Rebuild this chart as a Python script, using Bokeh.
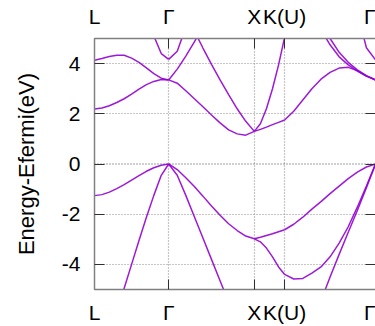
import numpy as np
from bokeh.plotting import figure
from bokeh.models import FixedTicker, LinearAxis, Range1d, Span
from bokeh.embed import file_html
from bokeh.resources import INLINE

nan = np.nan

# high-symmetry points along the path (units of 2*pi/a)
kpoint_labels = ["L", "Γ", "X", "K(U)", "Γ"]
kpoint_dist = [0.0, 0.866, 1.866, 2.220, 3.281]
y_ticks = [-4, -2, 0, 2, 4]

# fractional positions of the samples along each path segment
t_LG = [0, .1, .2, .3, .4, .5, .6, .7, .8, .9, 1.0]
t_GX = [0, .1, .2, .3, .4, .5, .6, .7, .8, .9, 1.0]
t_XK = [0, .2, .4, .6, .8, 1.0]
t_KG = [0, .1, .2, .3, .4, .5, .6, .7, .8, .9, 1.0]

# energies (eV, relative to E_Fermi)
# L - Gamma
LG_v1 = [-1.26, -1.22, -1.12, -0.98, -0.82, -0.64, -0.46, -0.29, -0.15, -0.05, 0.0]
LG_v2 = [nan, nan, nan, -5.9, -4.95, -4.0, -3.05, -2.12, -1.25, -0.45, 0.0]
LG_c1 = [2.19, 2.23, 2.32, 2.45, 2.6, 2.78, 2.98, 3.16, 3.29, 3.37, 3.35]
LG_c2 = [4.13, 4.2, 4.28, 4.33, 4.33, 4.22, 4.05, 3.83, 3.6, 3.42, 3.35]
LG_c3 = [nan, nan, nan, nan, nan, nan, nan, 6.0, 5.1, 4.4, 4.17]
# Gamma - X
GX_v1 = [0.0, -0.22, -0.55, -0.9, -1.28, -1.67, -2.04, -2.38, -2.65, -2.87, -2.98]
GX_v2 = [0.0, -0.45, -1.25, -2.1, -2.95, -3.8, -4.65, -5.5, nan, nan, nan]
GX_c1 = [3.35, 3.22, 2.92, 2.6, 2.28, 1.95, 1.64, 1.36, 1.2, 1.15, 1.3]
GX_c2 = [3.35, 3.78, 4.3, 4.87, 5.45, nan, nan, nan, nan, nan, nan]
GX_c3 = [4.17, 4.49, 5.45, nan, nan, nan, nan, nan, nan, nan, nan]
GX_c4 = [nan, nan, nan, 5.3, 4.62, 3.97, 3.35, 2.76, 2.2, 1.7, 1.3]
# X - K(U)
XK_v1 = [-2.98, -2.92, -2.85, -2.78, -2.7, -2.62]
XK_v2 = [-2.98, -3.1, -3.35, -3.7, -4.1, -4.4]
XK_c1 = [1.3, 1.38, 1.47, 1.57, 1.66, 1.75]
XK_c2 = [1.3, 1.6, 2.2, 3.0, 3.95, 5.05]
# K - Gamma
KG_v1 = [-2.62, -2.4, -2.12, -1.8, -1.5, -1.18, -0.88, -0.58, -0.32, -0.12, 0.0]
KG_v2 = [-4.4, -4.58, -4.56, -4.35, -4.1, -3.7, -3.15, -2.5, -1.72, -0.88, 0.0]
KG_v3 = [nan, nan, nan, nan, -5.45, -4.5, -3.6, -2.72, -1.85, -0.95, 0.0]
KG_c1 = [1.75, 2.1, 2.55, 3.0, 3.38, 3.65, 3.82, 3.85, 3.72, 3.5, 3.35]
KG_c2 = [nan, nan, nan, nan, 5.35, 4.75, 4.27, 3.95, 3.7, 3.5, 3.35]
KG_c3 = [nan, nan, nan, nan, 5.6, 5.0, 4.45, 4.05, 3.75, 3.52, 3.35]
KG_c4 = [nan, nan, nan, nan, nan, nan, nan, nan, 6.06, 4.63, 4.15]

segments = [
    (0, t_LG, [LG_v1, LG_v2, LG_c1, LG_c2, LG_c3]),
    (1, t_GX, [GX_v1, GX_v2, GX_c1, GX_c2, GX_c3, GX_c4]),
    (2, t_XK, [XK_v1, XK_v2, XK_c1, XK_c2]),
    (3, t_KG, [KG_v1, KG_v2, KG_v3, KG_c1, KG_c2, KG_c3, KG_c4]),
]

BAND_COLOR = "#9400D3"
FONT = "Liberation Sans"

p = figure(width=375, height=326,
           x_range=Range1d(kpoint_dist[0], kpoint_dist[-1]),
           y_range=Range1d(-5, 5),
           output_backend="svg", toolbar_location=None,
           min_border_left=94, min_border_right=0,
           min_border_top=38, min_border_bottom=37)
p.outline_line_color = None
p.background_fill_color = "white"
p.border_fill_color = "white"

for i, t, bands in segments:
    k0, k1 = kpoint_dist[i], kpoint_dist[i + 1]
    k = k0 + np.array(t) * (k1 - k0)
    for e in bands:
        p.line(k, np.array(e, dtype=float), line_color=BAND_COLOR,
               line_width=1.5, line_alpha=0.9)

# grid
p.xgrid.ticker = FixedTicker(ticks=kpoint_dist[1:-1])
p.ygrid.ticker = FixedTicker(ticks=[v for v in y_ticks if v != 0])
for g in (p.xgrid, p.ygrid):
    g.grid_line_color = "#8c8c8c"
    g.grid_line_dash = "1 2"
    g.grid_line_width = 1.2
zero = Span(location=0, dimension="width", line_color="#404040",
            line_dash="1 2", line_width=1.2, level="underlay")
p.add_layout(zero)

overrides = {kv: lab for kv, lab in zip(kpoint_dist, kpoint_labels)}


def style_common(ax):
    ax.major_tick_in = 10
    ax.major_tick_out = 0
    ax.minor_tick_line_color = None
    ax.axis_line_color = "#808080"
    ax.axis_line_width = 1.5
    ax.major_tick_line_color = "#303030"
    ax.major_tick_line_width = 1
    ax.major_label_text_font = FONT
    ax.major_label_text_font_size = "21px"
    ax.major_label_text_color = "black"


# bottom axis
xb = p.xaxis[0]
xb.ticker = FixedTicker(ticks=kpoint_dist)
xb.major_label_overrides = overrides
style_common(xb)
xb.major_label_standoff = 11

# top axis
xa = LinearAxis(ticker=FixedTicker(ticks=kpoint_dist), major_label_overrides=overrides)
style_common(xa)
xa.major_label_standoff = 11
p.add_layout(xa, "above")

# left axis
yl = p.yaxis[0]
yl.ticker = FixedTicker(ticks=y_ticks)
yl.major_label_overrides = {v: str(v) for v in y_ticks}
style_common(yl)
yl.major_label_standoff = 14
yl.axis_label = "Energy-Efermi(eV)"
yl.axis_label_text_font = FONT
yl.axis_label_text_font_size = "22px"
yl.axis_label_text_font_style = "normal"
yl.axis_label_text_color = "black"
yl.axis_label_standoff = 20

# right axis (ticks only, no labels)
yr = LinearAxis(ticker=FixedTicker(ticks=y_ticks))
style_common(yr)
yr.axis_line_color = None
yr.major_label_overrides = {v: "" for v in y_ticks}
yr.major_label_standoff = 0
p.add_layout(yr, "right")

open("out.html", "w").write(file_html(p, INLINE))
